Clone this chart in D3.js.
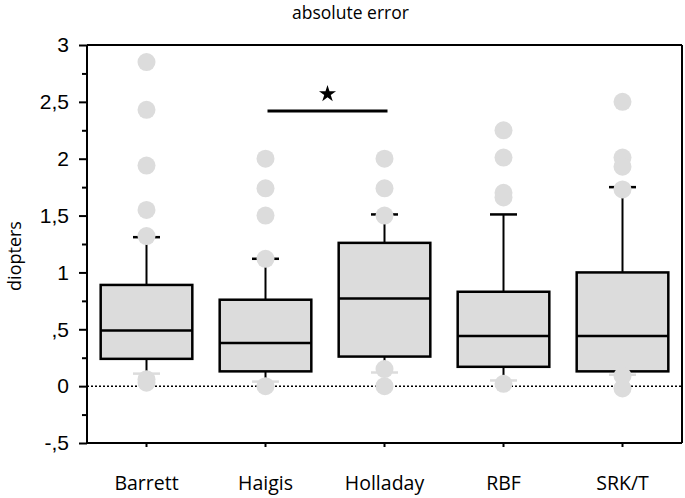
<!DOCTYPE html>
<html>
<head>
<meta charset="utf-8">
<script src="https://cdn.jsdelivr.net/npm/d3@7"></script>
<style>
  html, body { margin: 0; padding: 0; background: #fff; }
  svg { display: block; }
</style>
</head>
<body>
<svg id="chart" width="685" height="498"></svg>
<script>
// ---- data ----
const categories = ["Barrett", "Haigis", "Holladay", "RBF", "SRK/T"];
const q1 = [0.24, 0.13, 0.26, 0.17, 0.13];
const medians = [0.49, 0.38, 0.77, 0.44, 0.44];
const q3 = [0.89, 0.76, 1.26, 0.83, 1.00];
const whiskerLow = [0.11, 0.04, 0.12, 0.05, 0.10];
const whiskerHigh = [1.31, 1.12, 1.51, 1.51, 1.75];
const outliers = [
  [2.85, 2.43, 1.94, 1.55, 1.32, 0.06, 0.03],
  [2.00, 1.74, 1.50, 1.12, 0.00],
  [2.00, 1.74, 1.50, 0.15, 0.00],
  [2.25, 2.01, 1.70, 1.66, 0.02],
  [2.50, 2.01, 1.93, 1.73, 0.09, -0.02]
];
const majorTicks = [-0.5, 0, 0.5, 1, 1.5, 2, 2.5, 3];
const majorTickLabels = ["-,5", "0", ",5", "1", "1,5", "2", "2,5", "3"];
const minorTicks = [-0.25, 0.25, 0.75, 1.25, 1.75, 2.25, 2.75];
const sigPair = ["Haigis", "Holladay"];
const sigLevel = 2.42;
const titleText = "absolute error";
const yLabel = "diopters";

// ---- layout ----
const margin = { left: 87, right: 3, top: 45, bottom: 55 };
const W = 685, H = 498;
const svg = d3.select("#chart");

const x = d3.scaleBand().domain(categories)
  .range([margin.left, W - margin.right]).padding(0);
const y = d3.scaleLinear().domain([-0.5, 3])
  .range([H - margin.bottom, margin.top]);

const boxW = x.bandwidth() * 0.77;
const capW = 27;
const r = 9;
const gray = "#dcdcdc";

// zero dotted line
svg.append("line")
  .attr("x1", margin.left).attr("x2", W - margin.right)
  .attr("y1", y(0)).attr("y2", y(0))
  .attr("stroke", "#000").attr("stroke-width", 1.5)
  .attr("stroke-dasharray", "2,2");

const g = svg.append("g");
categories.forEach((c, i) => {
  const cx = x(c) + x.bandwidth() / 2;
  // whiskers
  g.append("line").attr("x1", cx).attr("x2", cx)
    .attr("y1", y(q3[i])).attr("y2", y(whiskerHigh[i]))
    .attr("stroke", "#000").attr("stroke-width", 2);
  g.append("line").attr("x1", cx).attr("x2", cx)
    .attr("y1", y(q1[i])).attr("y2", y(whiskerLow[i]))
    .attr("stroke", "#000").attr("stroke-width", 2);
  g.append("line").attr("x1", cx - capW / 2).attr("x2", cx + capW / 2)
    .attr("y1", y(whiskerHigh[i])).attr("y2", y(whiskerHigh[i]))
    .attr("stroke", "#000").attr("stroke-width", 2.5);
  g.append("line").attr("x1", cx - capW / 2).attr("x2", cx + capW / 2)
    .attr("y1", y(whiskerLow[i])).attr("y2", y(whiskerLow[i]))
    .attr("stroke", gray).attr("stroke-width", 2.5);
  // box
  g.append("rect")
    .attr("x", cx - boxW / 2).attr("width", boxW)
    .attr("y", y(q3[i])).attr("height", y(q1[i]) - y(q3[i]))
    .attr("fill", gray).attr("stroke", "#000").attr("stroke-width", 2.5);
  g.append("line").attr("x1", cx - boxW / 2).attr("x2", cx + boxW / 2)
    .attr("y1", y(medians[i])).attr("y2", y(medians[i]))
    .attr("stroke", "#000").attr("stroke-width", 2.5);
  // outliers
  g.selectAll(null).data(outliers[i]).enter().append("circle")
    .attr("cx", cx).attr("cy", d => y(d)).attr("r", r)
    .attr("fill", gray);
});

// frame
const frame = svg.append("g").attr("stroke", "#000").attr("stroke-width", 2).attr("fill", "none");
frame.append("line").attr("x1", margin.left).attr("x2", margin.left).attr("y1", y(3)).attr("y2", y(-0.5));
frame.append("line").attr("x1", W - margin.right).attr("x2", W - margin.right).attr("y1", y(3)).attr("y2", y(-0.5));
frame.append("line").attr("x1", margin.left).attr("x2", W - margin.right).attr("y1", y(3)).attr("y2", y(3));
frame.append("line").attr("x1", margin.left).attr("x2", W - margin.right).attr("y1", y(-0.5)).attr("y2", y(-0.5));

// y axis
const yAxis = d3.axisLeft(y).tickValues(majorTicks)
  .tickFormat((d, i) => majorTickLabels[i]).tickSize(8).tickPadding(10);
const ya = svg.append("g").attr("transform", `translate(${margin.left},0)`).call(yAxis);
ya.select(".domain").remove();
ya.selectAll("line").attr("stroke-width", 2);
ya.selectAll("text").attr("font-family", "'Liberation Sans', Arial, sans-serif")
  .attr("font-size", 21).attr("fill", "#000");
const yMinor = d3.axisLeft(y).tickValues(minorTicks).tickSize(5).tickFormat("");
const ym = svg.append("g").attr("transform", `translate(${margin.left},0)`).call(yMinor);
ym.select(".domain").remove();
ym.selectAll("line").attr("stroke-width", 2);

// x axis
const xAxis = d3.axisBottom(x).tickSize(4).tickPadding(29);
const xa = svg.append("g").attr("transform", `translate(0,${y(-0.5)})`).call(xAxis);
xa.select(".domain").remove();
xa.selectAll("line").attr("stroke-width", 2);
xa.selectAll("text").attr("font-family", "'Open Sans', sans-serif")
  .attr("font-size", 19.5).attr("fill", "#000");

// significance
const sx1 = x(sigPair[0]) + x.bandwidth() / 2 + 2;
const sx2 = x(sigPair[1]) + x.bandwidth() / 2 + 3;
svg.append("line").attr("x1", sx1).attr("x2", sx2)
  .attr("y1", y(sigLevel)).attr("y2", y(sigLevel))
  .attr("stroke", "#000").attr("stroke-width", 3);
svg.append("path")
  .attr("d", d3.symbol().type(d3.symbolStar).size(90)())
  .attr("transform", `translate(${(sx1 + sx2) / 2},${y(sigLevel) - 17})`)
  .attr("fill", "#000");

// title & label
svg.append("text").attr("x", 292).attr("y", 19)
  .attr("font-family", "'Open Sans', sans-serif").attr("font-size", 17.5)
  .attr("fill", "#000").text(titleText);
svg.append("text")
  .attr("transform", `translate(21,${(y(3) + y(-0.5)) / 2 + 12}) rotate(-90)`)
  .attr("text-anchor", "middle")
  .attr("font-family", "'Open Sans', sans-serif").attr("font-size", 18)
  .attr("fill", "#000").text(yLabel);
</script>
</body>
</html>
